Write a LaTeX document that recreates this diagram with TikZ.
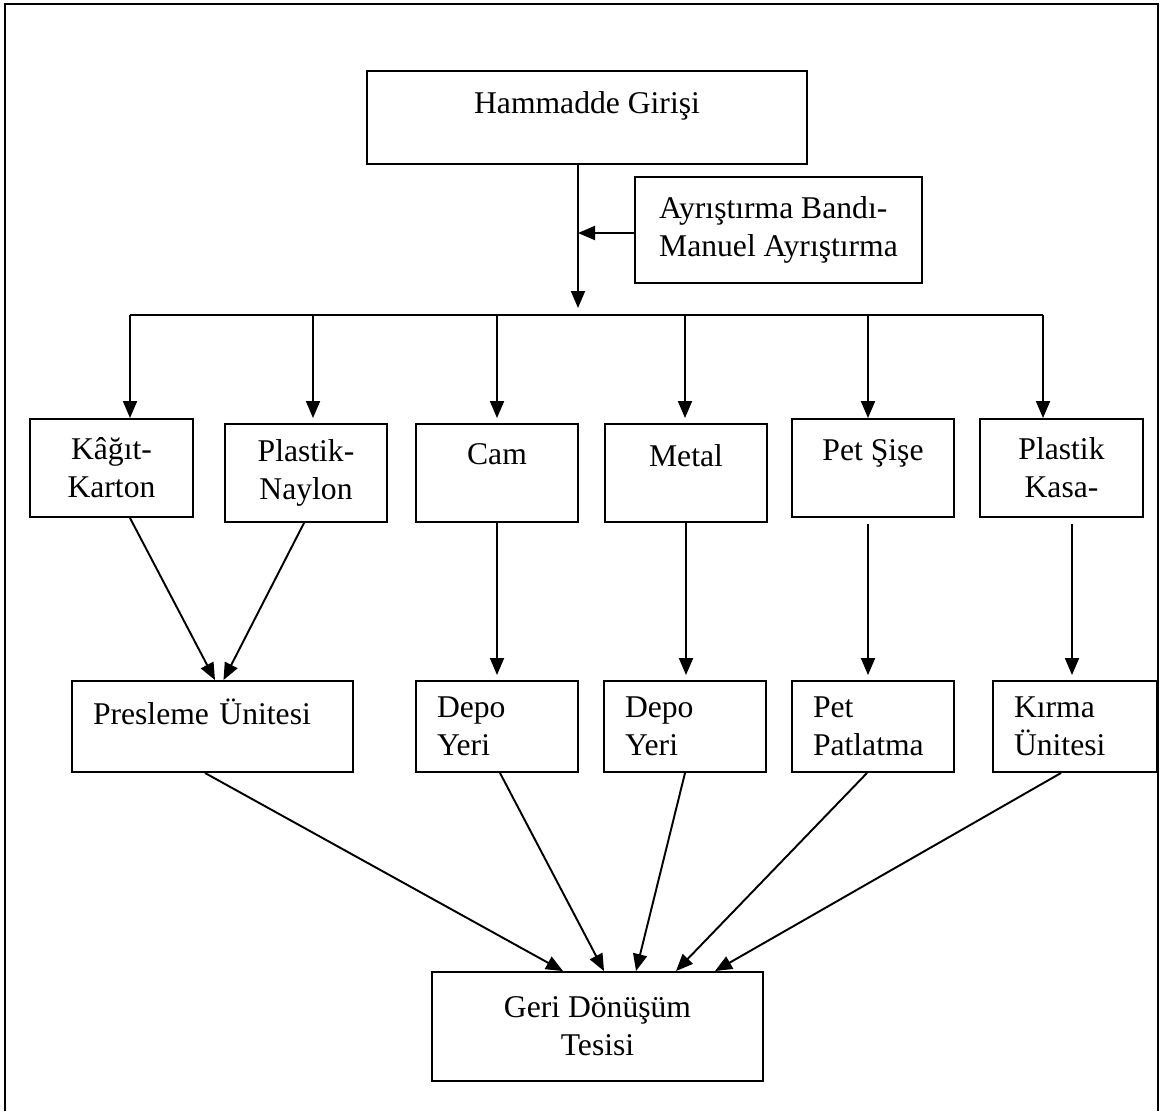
\documentclass[tikz,border=0pt]{standalone}
\usepackage{fontspec}
\setmainfont{Liberation Serif}
\usetikzlibrary{arrows.meta,positioning,calc}

\begin{document}
\begin{tikzpicture}[
  box/.style={draw, line width=1.1pt, inner ysep=0pt, align=center,
              font=\fontsize{18}{21.5}\selectfont},
  lbox/.style={box, align=left, inner xsep=0.42cm},
  upper/.style={text height=12pt, text depth=#1},
  arr/.style={line width=1.1pt, -{Triangle[length=0.34cm, width=0.28cm]}},
  frame/.style={line width=1.1pt}
]

\useasboundingbox (0,0) rectangle (23.22,-22.22);

% === Outer frame ===
\draw[frame] (0.1,-22.22) -- (0.1,-0.08) -- (23.16,-0.08) -- (23.16,-22.22);

% === Top ===
\node[box, minimum width=8.8cm, minimum height=1.86cm, upper=16.4pt] (ham) at (11.74,-2.35) {Hammadde Girişi};
\node[box, align=left, minimum width=5.74cm, minimum height=2.12cm] (ayr) at (15.57,-4.60)
     {Ayrıştırma Bandı-\\Manuel Ayrıştırma};

\coordinate (bus) at (11.56,-6.30);
\draw[arr] (ham.south -| bus) -- ([yshift=0.14cm]bus);
\draw[arr] ([yshift=-0.06cm]ayr.west) -- ([yshift=-0.06cm]ayr.west -| bus);

% === Material boxes ===
\node[box, minimum width=3.26cm, minimum height=1.96cm] (kag) at (2.23,-9.36) {Kâğıt-\\Karton};
\node[box, minimum width=3.24cm, minimum height=1.96cm] (pln) at (6.12,-9.46) {Plastik-\\Naylon};
\node[box, minimum width=3.24cm, minimum height=1.96cm, upper=21.6pt] (cam) at (9.94,-9.46) {Cam};
\node[box, minimum width=3.24cm, minimum height=1.96cm, upper=19.2pt] (met) at (13.72,-9.46) {Metal};
\node[box, minimum width=3.24cm, minimum height=1.96cm, upper=20.4pt] (pet) at (17.46,-9.36) {Pet Şişe};
\node[box, minimum width=3.26cm, minimum height=1.96cm] (kas) at (21.23,-9.36) {Plastik\\Kasa-};

% branches from the sorting line
\foreach \x/\n in {2.60/kag, 6.26/pln, 9.94/cam, 13.70/met, 17.36/pet, 20.86/kas} {
  \coordinate (b-\n) at (\x,-6.30);
  \draw[arr] (b-\n) -- (b-\n |- kag.north);
}
\draw[line width=1.1pt] (b-kag) -- (b-kas);

% === Processing units ===
\node[lbox, text width=4.78cm, minimum height=1.82cm, upper=14.2pt] (pre) at (4.25,-14.53) {Presleme Ünitesi};
\node[lbox, text width=2.40cm, minimum height=1.82cm] (dep1) at (9.94,-14.53) {Depo\\Yeri};
\node[lbox, text width=2.40cm, minimum height=1.82cm] (dep2) at (13.70,-14.53) {Depo\\Yeri};
\node[lbox, text width=2.40cm, minimum height=1.82cm] (pat) at (17.46,-14.53) {Pet\\Patlatma};
\node[lbox, text width=2.44cm, minimum height=1.82cm] (kir) at (21.50,-14.53) {Kırma\\Ünitesi};

\draw[arr] ([xshift=0.37cm]kag.south) -- ([xshift=0.05cm]pre.north);
\draw[arr] ([xshift=-0.04cm]pln.south) -- ([xshift=0.22cm]pre.north);
\draw[arr] (cam.south) -- ([yshift=0.1cm]dep1.north);
\draw[arr] (met.south) -- ([yshift=0.1cm]met.south |- dep2.north);
\draw[arr] ([xshift=-0.1cm,yshift=-0.12cm]pet.south) -- ([xshift=-0.1cm,yshift=0.1cm]pat.north);
\draw[arr] ([xshift=0.21cm,yshift=-0.12cm]kas.south) -- ([xshift=-0.06cm,yshift=0.1cm]kir.north);

% === Recycling plant ===
\node[box, minimum width=6.62cm, minimum height=2.18cm] (geri) at (11.95,-20.53) {Geri Dönüşüm\\Tesisi};

\draw[arr] ([xshift=-0.15cm]pre.south) -- ([xshift=-0.69cm]geri.north);
\draw[arr] ([xshift=0.06cm]dep1.south) -- ([xshift=0.13cm]geri.north);
\draw[arr] (dep2.south) -- ([xshift=0.77cm]geri.north);
\draw[arr] ([xshift=-0.12cm]pat.south) -- ([xshift=1.57cm]geri.north);
\draw[arr] ([xshift=-0.28cm]kir.south) -- ([xshift=2.35cm]geri.north);

\end{tikzpicture}
\end{document}
